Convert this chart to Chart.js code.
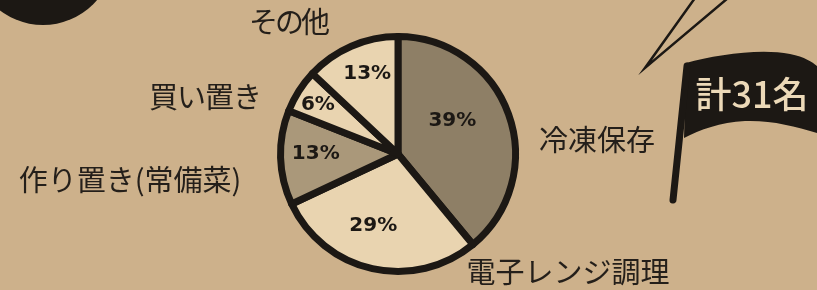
<!DOCTYPE html>
<html>
<head>
<meta charset="utf-8">
<script src="https://cdn.jsdelivr.net/npm/chart.js@4"></script>
<style>
  html, body { margin: 0; padding: 0; background: #cdb18b; }
  canvas { display: block; }
</style>
</head>
<body>
<canvas id="c" width="817" height="290"></canvas>
<script>
const categories = ['冷凍保存', '電子レンジ調理', '作り置き(常備菜)', '買い置き', 'その他']
const shares = [39, 29, 13, 6, 13]
const totalLabel = '計31名'

const sliceColors = ['#8e7f66', '#e9d4b0', '#aa987a', '#e9d4b0', '#e9d4b0']
// where each % label sits inside its slice: fraction along the arc, fraction of radius
const pctAlong = [0.42, 0.56, 0.54, 0.46, 0.55]
const pctRadius = [0.54, 0.65, 0.70, 0.80, 0.73]
// category name anchors, relative to the pie centre
const nameOffsets = [[199, -14], [170, 118], [-268, 26], [-193, -57], [-110, -132]]
const nameSpacing = [0, 0, 0, -1, -3]

const ink = '#1c1814'

const paper = {
  id: 'paper',
  beforeDraw(chart) {
    const ctx = chart.ctx
    ctx.save()
    ctx.fillStyle = '#cdb18b'
    ctx.fillRect(0, 0, chart.width, chart.height)
    ctx.restore()
  },
  afterDraw(chart) {
    const ctx = chart.ctx
    const arcs = chart.getDatasetMeta(0).data
    const cx = arcs[0].x
    const cy = arcs[0].y
    ctx.save()

    // black blob top-left
    ctx.fillStyle = ink
    ctx.beginPath()
    ctx.arc(43, -46, 71, 0, Math.PI * 2)
    ctx.fill()

    // speech lines top-right
    ctx.strokeStyle = ink
    ctx.lineWidth = 2.5
    ctx.lineCap = 'round'
    ctx.beginPath()
    ctx.moveTo(695, -2); ctx.lineTo(645, 68); ctx.lineTo(728, -2)
    ctx.stroke()

    // flag
    ctx.beginPath()
    ctx.moveTo(686, 63)
    ctx.bezierCurveTo(715, 55, 760, 48, 790, 54)
    ctx.bezierCurveTo(805, 57, 812, 62, 817, 66)
    ctx.lineTo(817, 133)
    ctx.bezierCurveTo(795, 126, 770, 120, 745, 121)
    ctx.bezierCurveTo(720, 122, 700, 130, 684, 138)
    ctx.closePath()
    ctx.fill()
    ctx.lineWidth = 7
    ctx.beginPath()
    ctx.moveTo(687, 66); ctx.lineTo(673, 200)
    ctx.stroke()
    ctx.fillStyle = '#ecd9b8'
    ctx.font = '500 36px "Noto Sans CJK JP"'
    ctx.textAlign = 'center'
    ctx.textBaseline = 'middle'
    ctx.fillText(totalLabel, 752, 94)

    // category names
    ctx.fillStyle = '#241f1a'
    ctx.font = '400 29px "Noto Sans CJK JP"'
    categories.forEach((name, i) => {
      ctx.letterSpacing = nameSpacing[i] + 'px'
      ctx.fillText(name, cx + nameOffsets[i][0], cy + nameOffsets[i][1])
    })
    ctx.letterSpacing = '0px'

    // percentages
    ctx.fillStyle = '#1c1814'
    ctx.font = 'bold 20px "DejaVu Sans"'
    arcs.forEach((arc, i) => {
      const a = arc.startAngle + (arc.endAngle - arc.startAngle) * pctAlong[i]
      const r = arc.outerRadius * pctRadius[i]
      ctx.fillText(shares[i] + '%', cx + Math.cos(a) * r, cy + Math.sin(a) * r)
    })
    ctx.restore()
  }
}

new Chart(document.getElementById('c'), {
  type: 'pie',
  data: {
    labels: categories,
    datasets: [{
      data: shares,
      backgroundColor: sliceColors,
      borderColor: ink,
      borderWidth: 7,
      borderJoinStyle: 'round'
    }]
  },
  options: {
    responsive: false,
    animation: false,
    layout: { padding: { left: 277, right: 298, top: 33, bottom: 15 } },
    plugins: { legend: { display: false }, tooltip: { enabled: false } }
  },
  plugins: [paper]
})
</script>
</body>
</html>
